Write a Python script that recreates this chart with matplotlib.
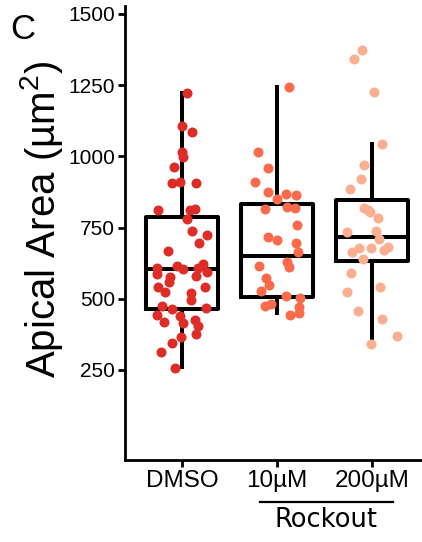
import matplotlib
matplotlib.use("Agg")
import matplotlib.pyplot as plt
import matplotlib.transforms as mtransforms

# ---------------------------------------------------------
# Data
# ---------------------------------------------------------
groups = ["DMSO", "10µM", "200µM"]
colors = ["#de2d26", "#fb6a4a", "#fcae91"]

# box summaries per group
box_lo = [262, 449, 346]
box_q1 = [463, 505, 632]
box_med = [604, 650, 716]
box_q3 = [786, 833, 847]
box_hi = [1224, 1243, 1044]

# jittered points: horizontal offset from group centre, value
dmso_dx = [0.05, 0.0, 0.11, 0.0, 0.01, -0.08, -0.11, -0.02, 0.15, -0.25,
           0.08, 0.14, 0.05, 0.10, 0.26, 0.18, -0.15, -0.26, -0.05, 0.01,
           0.22, 0.17, 0.26, -0.26, -0.13, 0.15, -0.14, -0.25, -0.18, 0.24,
           0.09, 0.09, -0.21, -0.11, 0.25, -0.26, -0.19, -0.02, 0.01, 0.14,
           0.17, 0.15, -0.01, -0.11, -0.22, -0.07]
dmso_val = [1224, 1108, 1085, 1014, 997, 964, 908, 911, 908, 812,
            812, 814, 779, 739, 724, 695, 669, 607, 616, 605,
            622, 607, 595, 587, 578, 581, 560, 543, 525, 543,
            519, 496, 476, 463, 467, 443, 420, 441, 414, 426,
            406, 375, 367, 344, 312, 258]

low_dx = [0.13, -0.20, -0.09, -0.23, -0.09, 0.09, 0.20, 0.0, -0.13, 0.11,
          0.19, 0.21, -0.09, 0.0, 0.20, 0.22, 0.10, 0.13, -0.19, -0.12,
          -0.08, -0.17, 0.09, 0.24, -0.13, -0.06, 0.23, 0.14, 0.23]
low_val = [1243, 1017, 958, 911, 876, 867, 864, 850, 814, 823,
           818, 759, 718, 707, 695, 665, 630, 613, 616, 572,
           549, 529, 511, 504, 475, 481, 472, 443, 449]

high_dx = [-0.11, -0.19, 0.02, 0.10, -0.08, -0.12, -0.23, -0.08, -0.04, -0.02,
           0.06, -0.26, 0.04, 0.07, 0.17, 0.13, -0.21, -0.14, -0.01, -0.09,
           -0.22, 0.08, -0.26, -0.15, 0.11, 0.26, -0.01]
high_val = [1374, 1341, 1225, 1044, 970, 921, 886, 820, 812, 804,
            783, 734, 739, 710, 683, 670, 665, 677, 680, 640,
            592, 540, 523, 458, 428, 369, 341]

yticks = [250, 500, 750, 1000, 1250, 1500]

# ---------------------------------------------------------
# Figure
# ---------------------------------------------------------
plt.rcParams['font.family'] = ['Liberation Sans', 'DejaVu Sans']
plt.rcParams['mathtext.fontset'] = 'custom'
plt.rcParams['mathtext.rm'] = 'Liberation Sans'
plt.rcParams['mathtext.it'] = 'Liberation Sans:italic'

W, H = 422, 542
fig = plt.figure(figsize=(W / 100, H / 100), dpi=100)
ax = fig.add_axes([125 / W, (H - 460) / H, (W - 125) / W, (460 - 6) / H])

# boxes
stats = []
for i in range(len(groups)):
    stats.append(dict(whislo=box_lo[i], q1=box_q1[i], med=box_med[i],
                      q3=box_q3[i], whishi=box_hi[i], fliers=[]))
line = dict(color="black", linewidth=2.9)
ax.bxp(stats, positions=range(len(groups)), widths=0.76, showcaps=False,
       showfliers=False, boxprops=line, whiskerprops=line,
       medianprops=line, manage_ticks=False, zorder=2)

# points
for i, (dx, val) in enumerate([(dmso_dx, dmso_val), (low_dx, low_val),
                               (high_dx, high_val)]):
    ax.scatter([i + d for d in dx], val, s=52, color=colors[i],
               linewidths=0, zorder=3)

ax.set_xlim(-0.6, 2.526)
ax.set_ylim(-66, 1528)
ax.set_xticks(range(len(groups)))
ax.set_xticklabels(groups, fontsize=17.5)
ax.set_yticks(yticks)
ax.set_yticklabels([str(t) for t in yticks], fontsize=15)
ax.tick_params(axis="both", length=5, width=2, color="black", pad=2)

for s in ["top", "right"]:
    ax.spines[s].set_visible(False)
for s in ["left", "bottom"]:
    ax.spines[s].set_linewidth(2)

# y label and panel letter
fig.text(42 / W, 1 - 219 / H, "Apical Area (µm$^2$)", rotation=90,
         ha="center", va="center", fontsize=29)
fig.text(10 / W, 1 - 13 / H, "C", ha="left", va="top", fontsize=25)

# Rockout bracket under the treated groups
trans = mtransforms.blended_transform_factory(ax.transData, fig.transFigure)
ax.plot([0.82, 2.22], [1 - 502 / H, 1 - 502 / H], color="black", lw=1.6,
        transform=trans, clip_on=False)
ax.text(1.52, 1 - 520 / H, "Rockout", transform=trans, ha="center",
        va="center", fontsize=18.5, family="DejaVu Sans")

fig.savefig("out.png", dpi=100)
